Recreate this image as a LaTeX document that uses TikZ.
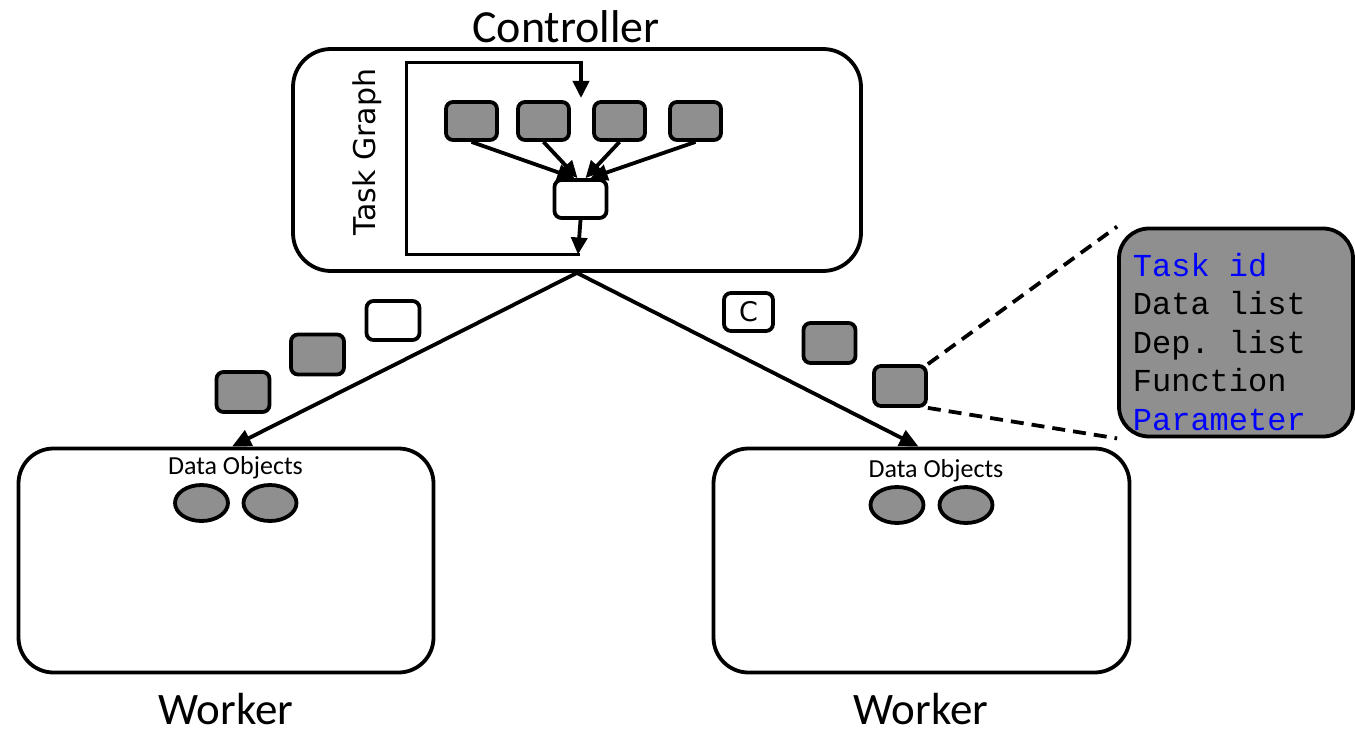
\documentclass[tikz,border=0pt]{standalone}
\usepackage{fontspec}
\setmainfont{Carlito}
\newfontfamily\graphfont{DejaVu Sans}
\newfontfamily\fieldfont{Liberation Mono}
\usetikzlibrary{arrows.meta,shapes.geometric}

\definecolor{taskgray}{RGB}{143,143,143}
\definecolor{fieldblue}{RGB}{0,0,255}

\begin{document}
\begin{tikzpicture}[x=1pt,y=-1pt,line width=3.8pt,
  every node/.style={inner sep=0pt},
  panel/.style={draw,rounded corners=38pt},
  task/.style={draw,fill=taskgray,rounded corners=7pt,minimum width=51pt,minimum height=38pt},
  emptytask/.style={task,fill=white},
  dataobj/.style={draw,fill=taskgray,ellipse,minimum width=53pt,minimum height=36pt},
  flow/.style={-{Triangle[length=17pt,width=16pt]}},
  bigarrow/.style={-{Triangle[length=19pt,width=17pt]}},
  zoomline/.style={dashed,dash pattern=on 13pt off 8pt},
  title/.style={font=\fontsize{45}{50}\selectfont},
  smalltitle/.style={font=\fontsize{26}{30}\selectfont},
]
\useasboundingbox (0,0) rectangle (1355,733);

% controller with its task graph
\node[panel,minimum width=568pt,minimum height=222pt] (ctrl) at (577,160) {};
\node[font=\fontsize{46}{50}\selectfont] (ctrltitle) at (566,27) {Controller};
\node[rotate=90,font=\graphfont\fontsize{30}{34}\selectfont] (tglabel) at (367,152) {Task Graph};

\node[task] (t1) at (471.5,121) {};
\node[task] (t2) at (543.5,121) {};
\node[task] (t3) at (619.5,121) {};
\node[task] (t4) at (695.5,121) {};
\node[emptytask,minimum width=52pt] (join) at (580.5,199) {};

\draw[flow] (t1.south) -- ([xshift=-6pt]join.north);
\draw[flow] (t2.south) -- ([xshift=-3pt]join.north);
\draw[flow] (t3.south) -- ([xshift=5pt]join.north);
\draw[flow] (t4.south) -- ([xshift=10pt]join.north);

% feedback loop around the graph
\coordinate (looptop) at (581,62.5);
\coordinate (loopbot) at (578,254.5);
\coordinate (looptl) at (406.5,62.5);
\coordinate (loopbl) at (406.5,254.5);
\coordinate (toptip) at (581,98);
\draw[line cap=rect] (looptop) -- (looptl) -- (loopbl) -- (loopbot);
\draw[flow] (looptop) -- (toptip);
\draw[flow] (join.south) -- (loopbot);

% workers
\node[panel,minimum width=415pt,minimum height=224pt,rounded corners=35pt] (wl) at (226,560.5) {};
\node[panel,minimum width=416pt,minimum height=224pt,rounded corners=35pt] (wr) at (921.5,560.5) {};
\node[title] (wltitle) at (226,709) {Worker};
\node[title] (wrtitle) at (921,709) {Worker};

\node[smalltitle] (wldata) at (235.5,468) {Data Objects};
\node[dataobj] (d1) at (201.5,503) {};
\node[dataobj] (d2) at (270,503) {};
\node[smalltitle] (wrdata) at (936,471) {Data Objects};
\node[dataobj] (d3) at (897,505) {};
\node[dataobj] (d4) at (966,505) {};

\draw[bigarrow] (ctrl.south) -- ([xshift=6pt]wl.north);
\draw[bigarrow] (ctrl.south) -- ([xshift=-3pt]wr.north);

% tasks in flight towards the left worker
\node[emptytask,minimum width=53pt,minimum height=39pt] (p1) at (393,320.5) {};
\node[task,minimum width=53pt,minimum height=40pt] (p2) at (317.5,354.5) {};
\node[task,minimum width=53pt,minimum height=40pt] (p3) at (243,392) {};

% tasks in flight towards the right worker
\node[emptytask,minimum width=49pt,minimum height=38pt,font=\graphfont\fontsize{27}{30}\selectfont] (q1) at (748.5,312) {C};
\node[task,minimum width=52pt,minimum height=40pt] (q2) at (829.5,343) {};
\node[task,minimum width=52pt,minimum height=40pt] (q3) at (900,386) {};

% task descriptor
\node[draw,fill=taskgray,rounded corners=30pt,minimum width=234pt,minimum height=208pt] (desc) at (1236,332.5) {};
\node[anchor=west,align=left,font=\fieldfont\fontsize{32}{38.5}\selectfont] (fields) at (1131,342)
  {\textcolor{fieldblue}{Task id}\\Data list\\Dep.\ list\\Function\\\textcolor{fieldblue}{Parameter}};

\draw[zoomline] (q3.north east) -- (desc.north west);
\draw[zoomline] (q3.south east) -- (desc.south west);
\end{tikzpicture}
\end{document}
